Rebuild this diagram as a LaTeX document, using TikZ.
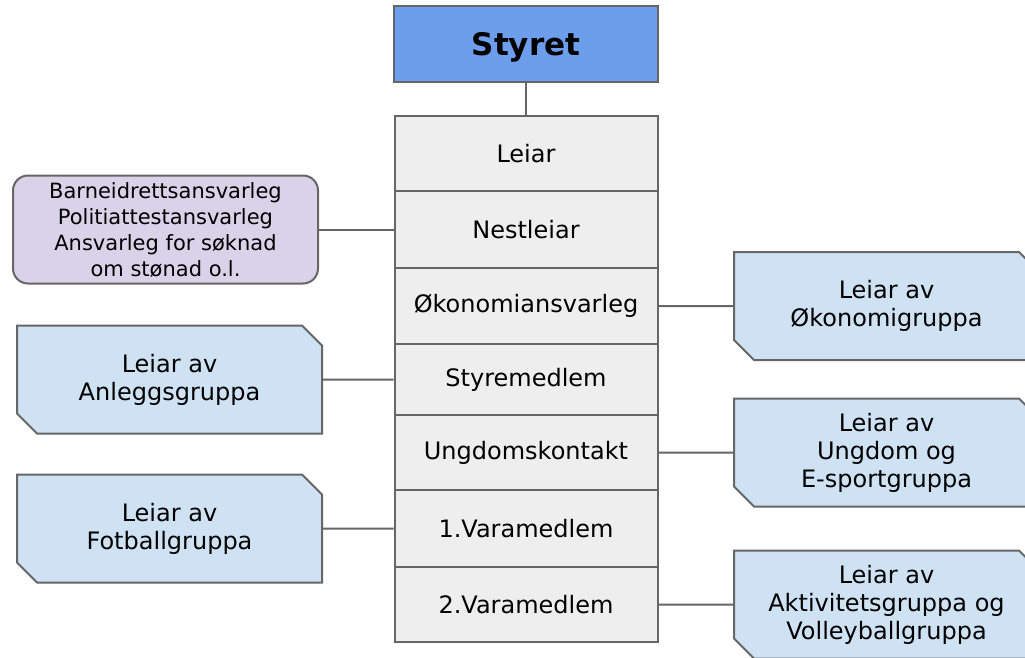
\documentclass[tikz,border=0pt]{standalone}
\usepackage{fontspec}
\setmainfont{DejaVu Sans}
\usepackage{tikz}
\usetikzlibrary{shapes.misc}
\definecolor{boardblue}{RGB}{109,158,235}
\definecolor{rowgrey}{RGB}{238,238,238}
\definecolor{groupblue}{RGB}{207,226,243}
\definecolor{rolelilac}{RGB}{217,210,233}
\definecolor{edgegrey}{RGB}{102,102,102}

\begin{document}
\begin{tikzpicture}[x=1pt, y=-1pt, line width=2pt,
    rowbox/.style={draw=edgegrey, fill=rowgrey, minimum width=263pt, inner sep=0pt, font=\fontsize{24}{29}\selectfont},
    groupbox/.style={chamfered rectangle, chamfered rectangle corners={north east,south west},
        chamfered rectangle xsep=10pt, chamfered rectangle ysep=10pt, draw=edgegrey, fill=groupblue,
        minimum width=305pt, minimum height=108pt, inner sep=0pt, align=center, font=\fontsize{24}{28}\selectfont},
    link/.style={draw=edgegrey}]
        \useasboundingbox (0,0) rectangle (1025,657);
        \node[draw=edgegrey,fill=boardblue,minimum width=264pt,minimum height=76pt,inner sep=0pt,
            text height=23pt,text depth=0pt,font={\fontsize{31}{37}\selectfont\bfseries}] (styret) at (526,44) {Styret};
        \node[rowbox,minimum height=75pt] (leiar) at (526,153.5) {Leiar};
        \node[rowbox,minimum height=77pt] (nestleiar) at (526,229.5) {Nestleiar};
        \node[rowbox,minimum height=76pt] (okonomi) at (526,306) {Økonomiansvarleg};
        \node[rowbox,minimum height=71pt] (styremedlem) at (526,379.5) {Styremedlem};
        \node[rowbox,minimum height=75pt] (ungdom) at (526,452.5) {Ungdomskontakt};
        \node[rowbox,minimum height=77pt] (vara1) at (526,528.5) {1.Varamedlem};
        \node[rowbox,minimum height=75pt] (vara2) at (526,604.5) {2.Varamedlem};
        \node[draw=edgegrey,fill=rolelilac,rounded corners=15pt,minimum width=305pt,minimum height=108pt,
            inner sep=0pt,align=center,font=\fontsize{21}{26}\selectfont] (ansvar) at (165.5,229.5)
            {Barneidrettsansvarleg\\Politiattestansvarleg\\Ansvarleg for søknad\\om stønad o.l.};
        \node[groupbox] (anlegg) at (169.5,379.5) {Leiar av\\Anleggsgruppa};
        \node[groupbox] (fotball) at (169.5,528.5) {Leiar av\\Fotballgruppa};
        \node[groupbox] (okgruppe) at (886.5,306) {Leiar av\\Økonomigruppa};
        \node[groupbox] (ungdomgruppe) at (886.5,452.5) {Leiar av\\Ungdom og\\E-sportgruppa};
        \node[groupbox] (aktivitet) at (886.5,604.5) {Leiar av\\Aktivitetsgruppa og\\Volleyballgruppa};
        \draw[link] (styret)--(leiar);
        \draw[link] (ansvar)--(nestleiar);
        \draw[link] (anlegg)--(styremedlem);
        \draw[link] (fotball)--(vara1);
        \draw[link] (okonomi)--(okgruppe);
        \draw[link] (ungdom)--(ungdomgruppe);
        \draw[link] (vara2)--(aktivitet);
      \end{tikzpicture}
\end{document}
